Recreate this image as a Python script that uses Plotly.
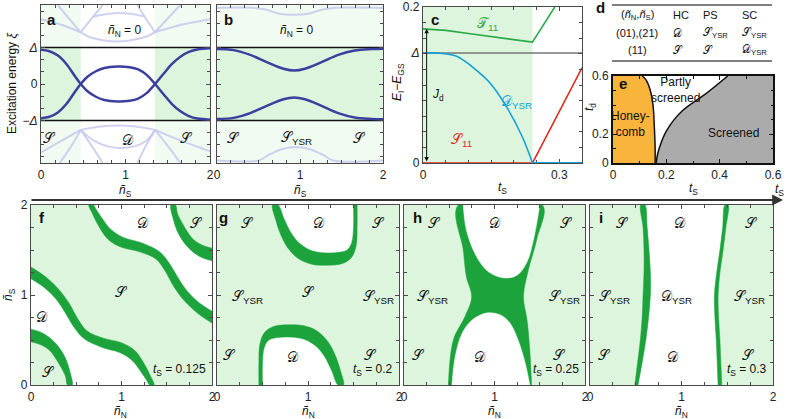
import plotly.graph_objects as go
import numpy as np

W, H = 786, 419

# ---------------- data ----------------
# panel a : sub-gap bound states (units of Delta) vs n_S, n_N = 0
a_nS = [0, 0.1, 0.2, 0.3, 0.4, 0.47, 0.55, 0.65, 0.75, 0.9, 1.05, 1.15, 1.25, 1.35, 1.45, 1.55, 1.65, 1.75, 1.85, 2.0]
a_xi = [0.94, 0.9, 0.78, 0.55, 0.22, 0.0, -0.2, -0.35, -0.44, -0.48, -0.46, -0.4, -0.25, 0.0, 0.28, 0.55, 0.75, 0.88, 0.95, 0.98]
a_D_range = [0.47, 1.35]
a_cont = [
    ([0.2, 0.33, 0.47], [2.17, 1.8, 1.42]),
    ([0.47, 0.6, 0.73], [1.42, 1.8, 2.17]),
    ([0.47, 0.6, 0.9, 1.2, 1.35], [1.42, 1.27, 1.17, 1.27, 1.42]),
    ([1.35, 1.24, 1.14], [1.42, 1.8, 2.17]),
    ([1.35, 1.5, 1.65], [1.42, 1.8, 2.17]),
    ([0.0, 0.25, 0.47], [1.78, 1.62, 1.42]),
    ([1.35, 1.65, 2.0], [1.42, 1.62, 1.78]),
    ([0.62, 0.8, 0.93, 1.06, 1.23], [1.85, 1.93, 1.95, 1.93, 1.85]),
    ([0.0, 0.25, 0.47], [-1.88, -1.55, -1.26]),
    ([0.47, 0.36, 0.22], [-1.26, -1.7, -2.17]),
    ([0.47, 0.6, 0.73], [-1.26, -1.7, -2.17]),
    ([0.47, 0.7, 0.91, 1.12, 1.35], [-1.26, -1.17, -1.14, -1.17, -1.26]),
    ([0.47, 0.62, 0.8, 1.05, 1.25, 1.35], [-1.26, -1.55, -1.72, -1.74, -1.55, -1.26]),
    ([1.35, 1.24, 1.14], [-1.26, -1.7, -2.17]),
    ([1.35, 1.5, 1.65], [-1.26, -1.7, -2.17]),
    ([1.35, 1.65, 2.0], [-1.26, -1.55, -1.85]),
]

# panel b
b_nS = [0, 0.2, 0.4, 0.6, 0.8, 0.93, 1.06, 1.26, 1.46, 1.66, 1.86, 2.0]
b_xi = [0.96, 0.93, 0.8, 0.6, 0.42, 0.37, 0.42, 0.6, 0.8, 0.92, 0.96, 0.97]
b_cont_top = ([0, 0.45, 0.6, 0.75, 0.93, 1.1, 1.26, 1.4, 2.0], [2.09, 2.09, 2.04, 1.93, 1.9, 1.93, 2.04, 2.09, 2.09])
b_cont_bot = ([0, 0.5, 0.62, 0.8, 0.95, 1.1, 1.28, 1.4, 2.0], [-2.1, -2.1, -1.95, -1.78, -1.74, -1.78, -1.95, -2.1, -2.1])

# panel c
c_delta = 0.141
c_hc_end = 0.241
c_ts_T = [0, 0.05, 0.1, 0.15, 0.2, 0.241, 0.29]
c_T11 = [0.172, 0.170, 0.166, 0.162, 0.158, 0.155, 0.2]
c_ts_D = [0, 0.03, 0.074, 0.109, 0.147, 0.184, 0.219, 0.241]
c_DYSR = [0.141, 0.141, 0.137, 0.123, 0.103, 0.072, 0.033, 0.0]
c_ts_Dz = [0.241, 0.35]
c_DYSRz = [0.0, 0.0]
c_ts_S = [0, 0.241, 0.35]
c_S11 = [0, 0, 0.122]

# panel e : phase diagram
e_hc_ts = [0.158, 0.158, 0.155, 0.150, 0.140, 0.125, 0.110]
e_hc_td = [0.0, 0.1, 0.25, 0.4, 0.5, 0.57, 0.6]
e_sc_ts = [0.162, 0.166, 0.175, 0.2, 0.26, 0.35, 0.43]
e_sc_td = [0.0, 0.05, 0.11, 0.22, 0.36, 0.48, 0.6]

# panel f (t_S = 0.125): band edges (n_N, n_S)
f_b1_out_N = [0, 0.1, 0.2, 0.3, 0.38, 0.43, 0.455]
f_b1_out_S = [0.62, 0.59, 0.53, 0.43, 0.30, 0.15, 0.0]
f_b1_in_N = [0, 0.1, 0.2, 0.27, 0.33, 0.38, 0.405]
f_b1_in_S = [0.48, 0.45, 0.39, 0.30, 0.20, 0.10, 0.0]
f_b2_up_N = [0, 0.15, 0.3, 0.42, 0.52, 0.62, 0.8, 1.0, 1.15, 1.26, 1.32, 1.36]
f_b2_up_S = [1.31, 1.21, 1.07, 0.91, 0.73, 0.60, 0.52, 0.47, 0.38, 0.22, 0.10, 0.0]
f_b2_lo_N = [0, 0.15, 0.28, 0.38, 0.47, 0.58, 0.78, 0.98, 1.12, 1.22, 1.28, 1.31]
f_b2_lo_S = [1.18, 1.08, 0.95, 0.80, 0.65, 0.52, 0.42, 0.36, 0.27, 0.14, 0.05, 0.0]

# panel g (t_S = 0.2)
g_b_out_N = [0.46, 0.46, 0.47, 0.52, 0.62, 0.80, 0.95, 1.10, 1.22, 1.30, 1.36, 1.39]
g_b_out_S = [0.0, 0.25, 0.45, 0.58, 0.65, 0.67, 0.66, 0.60, 0.48, 0.33, 0.15, 0.0]
g_b_in_N = [0.50, 0.50, 0.52, 0.57, 0.70, 0.85, 0.98, 1.10, 1.18, 1.26, 1.33]
g_b_in_S = [0.0, 0.25, 0.42, 0.50, 0.53, 0.53, 0.50, 0.42, 0.32, 0.16, 0.0]

# panel h (t_S = 0.25)
h_left_N = [0.49, 0.545, 0.674, 0.748, 0.69, 0.655, 0.6]
h_left_S = [0.0, 0.5, 0.76, 0.98, 1.2, 1.5, 2.0]
h_right_N = [1.41, 1.39, 1.36, 1.32, 1.37, 1.47, 1.53]
h_right_S = [0.0, 0.39, 0.72, 0.98, 1.26, 1.63, 2.0]
h_bot_N = [0.53, 0.565, 0.64, 0.75, 0.91, 1.06, 1.17, 1.26, 1.34, 1.39]
h_bot_S = [0.0, 0.31, 0.57, 0.72, 0.80, 0.78, 0.69, 0.5, 0.24, 0.0]
h_top_N = [0.655, 0.69, 0.80, 0.93, 1.10, 1.25, 1.36, 1.43, 1.50]
h_top_S = [2.0, 1.72, 1.43, 1.26, 1.19, 1.22, 1.37, 1.61, 2.0]

# panel i (t_S = 0.3)
i_S = [0, 0.25, 0.5, 0.75, 1.0, 1.25, 1.5, 1.75, 2.0]
i_L_out = [0.49, 0.52, 0.55, 0.57, 0.58, 0.59, 0.59, 0.58, 0.555]
i_L_in = [0.525, 0.57, 0.61, 0.64, 0.66, 0.66, 0.645, 0.625, 0.60]
i_R_in = [1.40, 1.39, 1.38, 1.365, 1.36, 1.385, 1.42, 1.45, 1.475]
i_R_out = [1.44, 1.43, 1.42, 1.405, 1.40, 1.42, 1.455, 1.485, 1.51]

# ---------------- styles ----------------
FONT = "Liberation Sans"
LG = "#dcf5dc"      # light green
PG = "#f1fbf1"      # pale green
DG = "#1ca33c"      # dark green bands
BLUE = "#3b3f9e"
LAV = "rgba(196,198,236,0.8)"
FR = "#4a4a4a"
SCR_S, SCR_D, SCR_T = "\U0001D4AE", "\U0001D49F", "\U0001D4AF"

def dx(p0, p1):
    return [p0 / W, p1 / W]

def dy(p0, p1):
    return [1 - p1 / H, 1 - p0 / H]

def px(x):
    return x / W

def py(y):
    return 1 - y / H

fig = go.Figure()

def line(xs, ys, ax, color, width=2, shape="spline", dash=None):
    fig.add_trace(go.Scatter(x=xs, y=ys, mode="lines", xaxis="x" + ax, yaxis="y" + ax,
                             line=dict(color=color, width=width, shape=shape, dash=dash),
                             hoverinfo="skip", showlegend=False))

def poly(xs, ys, ax, color, shape="spline"):
    fig.add_trace(go.Scatter(x=xs, y=ys, mode="lines", fill="toself", fillcolor=color,
                             xaxis="x" + ax, yaxis="y" + ax,
                             line=dict(color=color, width=0.5, shape=shape),
                             hoverinfo="skip", showlegend=False))

def rect(ax, x0, x1, y0, y1, color):
    fig.add_shape(type="rect", xref="x" + ax, yref="y" + ax, x0=x0, x1=x1, y0=y0, y1=y1,
                  fillcolor=color, line=dict(width=0), layer="below")

def drect(ax, color):
    fig.add_shape(type="rect", xref="x" + ax + " domain", yref="y" + ax + " domain",
                  x0=0, x1=1, y0=0, y1=1, fillcolor=color, line=dict(width=0), layer="below")

def txt(ax, x, y, s, size=12, color="#111", **kw):
    kw.setdefault("xanchor", "center")
    kw.setdefault("yanchor", "middle")
    fig.add_annotation(x=x, y=y, xref="x" + ax, yref="y" + ax, text=s, showarrow=False,
                       font=dict(size=size, color=color, family=FONT), **kw)

def ptxt(x, y, s, size=12, color="#111", **kw):
    kw.setdefault("xanchor", "center")
    kw.setdefault("yanchor", "middle")
    fig.add_annotation(x=px(x), y=py(y), xref="paper", yref="paper", text=s, showarrow=False,
                       font=dict(size=size, color=color, family=FONT), **kw)

# ---------- panel a ----------
rect("1", 0, a_D_range[0], -2.2, 2.2, PG)
rect("1", a_D_range[1], 2, -2.2, 2.2, PG)
rect("1", 0, a_D_range[0], -1, 1, LG)
rect("1", a_D_range[1], 2, -1, 1, LG)
for xs, ys in a_cont:
    line(xs, ys, "1", LAV, 2)
line([0, 2], [1, 1], "1", "#111", 1.5, "linear")
line([0, 2], [-1, -1], "1", "#111", 1.5, "linear")
line(a_nS, a_xi, "1", BLUE, 2.5)
line(a_nS, [-v for v in a_xi], "1", BLUE, 2.5)
txt("1", 0.99, 1.45, "<i>ñ</i><sub>N</sub> = 0", 12)
txt("1", 0.1, -1.48, SCR_S, 14)
txt("1", 1.03, -1.55, SCR_D, 14)
txt("1", 1.72, -1.48, SCR_S, 14)

# ---------- panel b ----------
rect("2", 0, 2, -2.2, 2.2, PG)
rect("2", 0, 2, -1, 1, LG)
line(*b_cont_top, "2", LAV, 2)
line(*b_cont_bot, "2", LAV, 2)
line([0, 2], [1, 1], "2", "#111", 1.5, "linear")
line([0, 2], [-1, -1], "2", "#111", 1.5, "linear")
line(b_nS, b_xi, "2", BLUE, 2.5)
line(b_nS, [-v for v in b_xi], "2", BLUE, 2.5)
txt("2", 0.96, 1.45, "<i>ñ</i><sub>N</sub> = 0", 12)
txt("2", 0.2, -1.48, SCR_S, 14)
txt("2", 0.96, -1.48, SCR_S + "<sub>YSR</sub>", 14)
txt("2", 1.72, -1.48, SCR_S, 14)

# ---------- panel c ----------
rect("3", 0, c_hc_end, 0, 0.2, LG)
line([0, 0.35], [c_delta, c_delta], "3", "#777", 1.3, "linear")
line(c_ts_S, c_S11, "3", "#e0261c", 1.6, "linear")
line(c_ts_Dz, c_DYSRz, "3", "#14a0d8", 2, "linear")
line(c_ts_D, c_DYSR, "3", "#14a0d8", 1.6)
line(c_ts_T, c_T11, "3", "#2aa84a", 1.6, "linear")
fig.add_annotation(x=0.008, y=c_T11[0], ax=0.008, ay=0, xref="x3", yref="y3", axref="x3", ayref="y3",
                   text="", showarrow=True, arrowhead=2, arrowside="end+start", arrowsize=0.9,
                   arrowwidth=1, arrowcolor="#111")
txt("3", 0.034, 0.087, "<i>J</i><sub>d</sub>", 12)
txt("3", 0.142, 0.178, SCR_T + "<sub>11</sub>", 14, "#2aa84a")
txt("3", 0.206, 0.078, SCR_D + "<sub>YSR</sub>", 14, "#14a0d8")
txt("3", 0.085, 0.03, SCR_S + "<sub>11</sub>", 14, "#e0261c")

# ---------- panel e ----------
poly([0] + e_hc_ts + [0], [0] + e_hc_td + [0.6], "4", "#f9b43c", "linear")
poly(e_sc_ts + [0.6, 0.6], e_sc_td + [0.6, 0], "4", "#ababab", "linear")
line(e_hc_ts, e_hc_td, "4", "#111", 1.5)
line(e_sc_ts, e_sc_td, "4", "#111", 1.5)
txt("4", 0.065, 0.27, "Honey-<br>comb", 12)
txt("4", 0.235, 0.505, "Partly<br>screened", 12)
txt("4", 0.45, 0.21, "Screened", 12)

# ---------- bottom panels ----------
def refl(v):
    return [2 - t for t in v]

# f
drect("5", LG)
poly(f_b1_out_N + [f_b2_lo_N[-1]] + f_b2_lo_N[::-1], f_b1_out_S + [0] + f_b2_lo_S[::-1], "5", "white")
poly(refl(f_b1_out_N) + refl(f_b2_lo_N[::-1]), refl(f_b1_out_S) + refl(f_b2_lo_S[::-1]), "5", "white")
for bN1, bS1, bN2, bS2 in [(f_b1_out_N, f_b1_out_S, f_b1_in_N, f_b1_in_S),
                           (f_b2_up_N, f_b2_up_S, f_b2_lo_N, f_b2_lo_S)]:
    poly(bN1 + bN2[::-1], bS1 + bS2[::-1], "5", DG)
    poly(refl(bN1) + refl(bN2[::-1]), refl(bS1) + refl(bS2[::-1]), "5", DG)

# g
drect("6", LG)
poly(g_b_out_N, g_b_out_S, "6", "white")
poly(refl(g_b_out_N), refl(g_b_out_S), "6", "white")
poly(g_b_out_N + g_b_in_N[::-1], g_b_out_S + g_b_in_S[::-1], "6", DG)
poly(refl(g_b_out_N) + refl(g_b_in_N[::-1]), refl(g_b_out_S) + refl(g_b_in_S[::-1]), "6", DG)

# h
drect("7", LG)
poly(h_left_N + h_right_N[::-1], h_left_S + h_right_S[::-1], "7", DG)
poly(h_bot_N, h_bot_S, "7", "white")
poly(h_top_N, h_top_S, "7", "white")

# i
drect("8", LG)
poly(i_L_in + i_R_in[::-1], i_S + i_S[::-1], "8", "white")
poly(i_L_out + i_L_in[::-1], i_S + i_S[::-1], "8", DG)
poly(i_R_in + i_R_out[::-1], i_S + i_S[::-1], "8", DG)

YS = SCR_S + "<sub>YSR</sub>"
YD = SCR_D + "<sub>YSR</sub>"
lab = {
    "5": [(1.24, 1.8, SCR_D), (1.83, 1.8, SCR_S), (1.0, 1.03, SCR_S), (0.12, 0.76, SCR_D), (0.19, 0.15, SCR_S)],
    "6": [(0.33, 1.8, SCR_S), (1.12, 1.8, SCR_D), (1.77, 1.8, SCR_S), (0.33, 0.98, YS), (1.0, 1.03, SCR_S),
          (1.77, 0.98, YS), (0.14, 0.33, SCR_S), (0.84, 0.31, SCR_D), (1.69, 0.33, SCR_S)],
    "7": [(0.34, 1.8, SCR_S), (1.0, 1.8, SCR_D), (1.8, 1.8, SCR_S), (0.31, 0.98, YS), (1.77, 0.98, YS),
          (0.16, 0.33, SCR_S), (0.84, 0.31, SCR_D), (1.72, 0.33, SCR_S)],
    "8": [(0.36, 1.8, SCR_S), (0.98, 1.8, SCR_D), (1.77, 1.8, SCR_S), (0.27, 0.98, YS), (0.95, 0.98, YD),
          (1.74, 0.98, YS), (0.16, 0.33, SCR_S), (0.91, 0.31, SCR_D), (1.73, 0.33, SCR_S)],
}
for ax, items in lab.items():
    for x, y, s in items:
        txt(ax, x, y, s, 14)
for ax, t in [("5", "0.125"), ("6", "0.2"), ("7", "0.25"), ("8", "0.3")]:
    fig.add_annotation(x=0.98, y=0.03, xref="x" + ax + " domain", yref="y" + ax + " domain",
                       text="<i>t</i><sub>S</sub> = " + t, showarrow=False, xanchor="right", yanchor="bottom",
                       font=dict(size=12, color="#111", family=FONT))

# ---------- axes ----------
def axstyle(dom, rng, tickvals=None, ticktext=None, minor=None, labels=True, lw=1.2, lc=FR, anchor=None):
    d = dict(domain=dom, range=rng, showline=True, mirror="allticks", linecolor=lc, linewidth=lw,
             ticks="inside", ticklen=4, tickcolor=lc, showgrid=False, zeroline=False, automargin=False,
             showticklabels=labels, tickfont=dict(size=12, color="#222", family=FONT), anchor=anchor,
             fixedrange=True)
    if tickvals is not None:
        d["tickvals"] = tickvals
        d["tickmode"] = "array"
    if ticktext is not None:
        d["ticktext"] = ticktext
    if minor is not None:
        d["minor"] = dict(ticks="inside", ticklen=2.5, dtick=minor, tick0=0, tickcolor=lc, showgrid=False)
    return d

lay = {}
dl = ["−<i>Δ</i>", "0", "<i>Δ</i>"]
lay["xaxis"] = axstyle(dx(41, 210), [0, 2], [0, 1, 2], minor=1 / 6, anchor="y")
lay["yaxis"] = axstyle(dy(5, 163), [-2.17, 2.17], [-1, 0, 1], dl, minor=1 / 3, anchor="x")
lay["xaxis2"] = axstyle(dx(217, 383), [0, 2], [0, 1, 2], minor=1 / 6, anchor="y2")
lay["yaxis2"] = axstyle(dy(5, 163), [-2.17, 2.17], [-1, 0, 1], minor=1 / 3, labels=False, anchor="x2")
lay["xaxis3"] = axstyle(dx(423, 582), [0, 0.35], [0, 0.3], ["0", "0.3"], minor=0.05, anchor="y3")
lay["xaxis3"]["layer"] = "below traces"
lay["yaxis3"] = axstyle(dy(7, 163), [0, 0.2], [0, c_delta, 0.2], ["0", "<i>Δ</i>", "0.2"], minor=0.02, anchor="x3")
lay["xaxis4"] = axstyle(dx(613, 773), [0, 0.6], [0, 0.2, 0.4, 0.6], ["0", "0.2", "0.4", "0.6"], minor=0.1, lw=2, lc="#111", anchor="y4")
lay["yaxis4"] = axstyle(dy(76, 163), [0, 0.6], [0, 0.2, 0.6], ["0", "0.2", "0.6"], minor=0.1, lw=2, lc="#111", anchor="x4")
bx = [(31, 212), (217, 399), (404, 585), (590, 773)]
for k, (a0, a1) in enumerate(bx):
    n = str(k + 5)
    lay["xaxis" + n] = axstyle(dx(a0, a1), [0, 2], [0, 1, 2], minor=0.25, anchor="y" + n)
    lay["yaxis" + n] = axstyle(dy(205, 385), [0, 2], [0, 1, 2], minor=0.25, labels=(k == 0), anchor="x" + n)

fig.update_layout(width=W, height=H, margin=dict(l=0, r=0, t=0, b=0, pad=0, autoexpand=False),
                  paper_bgcolor="white", plot_bgcolor="rgba(0,0,0,0)", showlegend=False,
                  font=dict(family=FONT), **lay)

# ---------- titles, panel letters, table ----------
ptxt(12, 84, "Excitation energy <i>ξ</i>", 12, textangle=-90)
ptxt(125, 191, "<i>ñ</i><sub>S</sub>", 12)
ptxt(300, 191, "<i>ñ</i><sub>S</sub>", 12)
ptxt(398, 82, "<i>E</i><sub>I</sub>−<i>E</i><sub>GS</sub>", 12, textangle=-90)
ptxt(502, 188, "<i>t</i><sub>S</sub>", 12)
ptxt(693, 189, "<i>t</i><sub>S</sub>", 12)
ptxt(590, 107, "<i>t</i><sub>d</sub>", 12, textangle=-90)
ptxt(9, 295, "<i>ñ</i><sub>S</sub>", 12, textangle=-90)
for cx in [121, 308, 494, 681]:
    ptxt(cx, 412, "<i>ñ</i><sub>N</sub>", 12)
for s, x, y in [("a", 52, 20), ("b", 228, 20), ("c", 435, 20), ("d", 600, 7), ("e", 623, 83),
                ("f", 42, 217), ("g", 223, 217), ("h", 417, 217), ("i", 601, 217)]:
    ptxt(x, y, "<b>" + s + "</b>", 15)

# table d
for yy in [5, 61]:
    fig.add_shape(type="line", xref="paper", yref="paper", x0=px(612), x1=px(772), y0=py(yy), y1=py(yy),
                  line=dict(color="#555", width=1.5))
ptxt(637, 15, "(<i>ñ</i><sub>N</sub>,<i>ñ</i><sub>S</sub>)", 11)
ptxt(637, 33, "(01),(21)", 11)
ptxt(637, 50, "(11)", 11)
rows = [
    (15, ["HC", "PS", "SC"]),
    (33, [SCR_D, SCR_S + "<sub>YSR</sub>", SCR_S + "<sub>YSR</sub>"]),
    (50, [SCR_S, SCR_S, SCR_D + "<sub>YSR</sub>"]),
]
colx = [671, 701, 740]
for yy, cells in rows:
    for cx, s in zip(colx, cells):
        ptxt(cx, yy, s, 11, xanchor="left")

# big t_S arrow
fig.add_annotation(x=px(783), y=py(200), xref="paper", yref="paper", ax=-753, ay=0, text="",
                   showarrow=True, arrowhead=2, arrowsize=1.2, arrowwidth=1.8, arrowcolor="#333")
ptxt(779, 190, "<i>t</i><sub>S</sub>", 12)

fig.write_html("out.html", config={"displayModeBar": False},
               post_script="document.body.style.margin='0';document.body.style.padding='0';")
